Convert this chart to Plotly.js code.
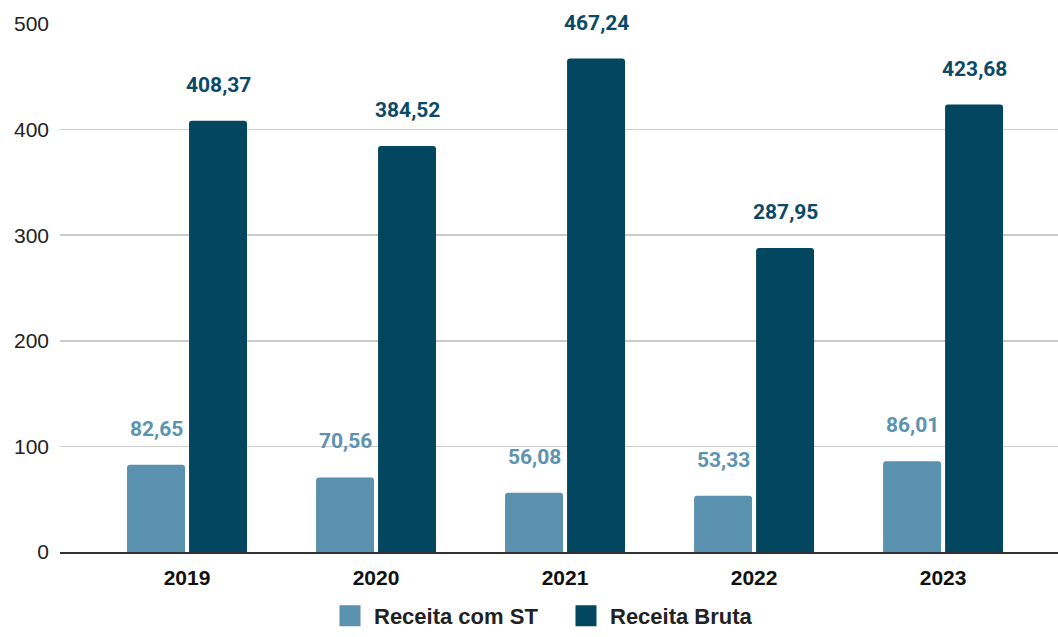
<!DOCTYPE html>
<html>
<head>
<meta charset="utf-8">
<script src="https://cdn.plot.ly/plotly-3.0.1.min.js"></script>
<style>html,body{margin:0;padding:0;background:#fff;}#chart{width:1058px;height:637px;}</style>
</head>
<body>
<div id="chart"></div>
<script>
const years = ['2019', '2020', '2021', '2022', '2023'];
const receitaComST = [82.65, 70.56, 56.08, 53.33, 86.01];
const receitaBruta = [408.37, 384.52, 467.24, 287.95, 423.68];
const yTicks = [0, 100, 200, 300, 400, 500];
const seriesNames = ['Receita com ST', 'Receita Bruta'];

const cLight = '#5a91ae';
const cDark = '#03465f';
const cLightText = '#5b93b1';
const cDarkText = '#0a4a66';

function fmt(v) { return v.toFixed(2).replace('.', ','); }

const traces = [
  {type: 'bar', x: years, y: receitaComST, name: seriesNames[0], marker: {color: cLight, cornerradius: 3}, showlegend: false, hoverinfo: 'skip'},
  {type: 'bar', x: years, y: receitaBruta, name: seriesNames[1], marker: {color: cDark, cornerradius: 3}, showlegend: false, hoverinfo: 'skip'},
  {type: 'scatter', mode: 'markers', x: [null], y: [null], name: seriesNames[0], marker: {symbol: 'square', size: 16, color: cLight, line: {color: cLight, width: 5}}},
  {type: 'scatter', mode: 'markers', x: [null], y: [null], name: seriesNames[1], marker: {symbol: 'square', size: 16, color: cDark, line: {color: cDark, width: 5}}}
];

const annotations = [];
years.forEach((yr, i) => {
  annotations.push({x: i, y: receitaComST[i], xref: 'x', yref: 'y', text: fmt(receitaComST[i]), showarrow: false, xshift: -31, yshift: 22, yanchor: 'bottom', font: {family: 'Roboto, sans-serif', size: 21, color: cLightText, weight: 'bold'}});
  annotations.push({x: i, y: receitaBruta[i], xref: 'x', yref: 'y', text: fmt(receitaBruta[i]), showarrow: false, xshift: 31, yshift: 22, yanchor: 'bottom', font: {family: 'Roboto, sans-serif', size: 21, color: cDarkText, weight: 'bold'}});
});

const layout = {
  width: 1058, height: 637,
  margin: {l: 60, r: 0, t: 24, b: 85},
  paper_bgcolor: '#fff', plot_bgcolor: '#fff',
  barmode: 'group', bargap: 0.344, bargroupgap: 0.065,
  xaxis: {type: 'category', range: [-0.672, 4.608], showgrid: false, showline: true, linecolor: '#333', linewidth: 2,
          ticks: '', ticklabelstandoff: 6, tickfont: {family: '"Liberation Sans", Arial, sans-serif', size: 21, color: '#111', weight: 'bold'}, fixedrange: true},
  yaxis: {range: [0, 500], tickvals: yTicks, ticktext: yTicks.map(String), showgrid: true, gridcolor: '#cccccc', gridwidth: 1.5, zeroline: false,
          ticks: '', ticklabelstandoff: 10, tickfont: {family: '"Liberation Sans", Arial, sans-serif', size: 21, color: '#222'}, fixedrange: true},
  showlegend: true,
  legend: {orientation: 'h', x: 0.503, xanchor: 'center', xref: 'paper', y: -0.012, yanchor: 'bottom', yref: 'container',
           font: {family: '"Liberation Sans", Arial, sans-serif', size: 22, color: '#222', weight: 'bold'}, itemwidth: 38, entrywidth: 183, traceorder: 'normal'},
  annotations: annotations
};

Plotly.newPlot('chart', traces, layout, {displayModeBar: false, staticPlot: true});
</script>
</body>
</html>
